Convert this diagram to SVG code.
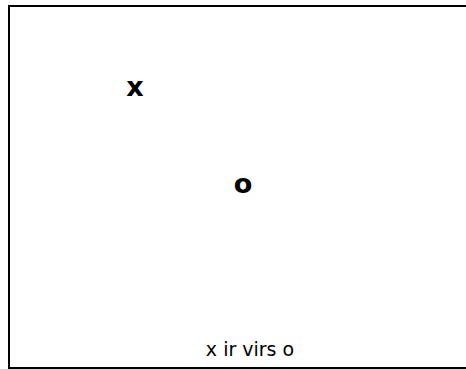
<svg xmlns="http://www.w3.org/2000/svg" width="466" height="369" viewBox="0 0 466 369">
<style>
.frame{fill:none;stroke:#000;stroke-width:2}
.mark{font-family:"DejaVu Sans",Verdana,sans-serif;font-weight:bold;font-size:27px;fill:#000}
.cap{font-family:"DejaVu Sans",Verdana,sans-serif;font-size:19px;fill:#000}
</style>
<rect x="0" y="0" width="466" height="369" fill="#fff"/>
<rect class="frame" x="9" y="6" width="460" height="362"/>
<g id="node-x"><text class="mark" x="135" y="96" text-anchor="middle">x</text></g>
<g id="node-o"><text class="mark" x="243" y="193" text-anchor="middle">o</text></g>
<g id="connectors"></g>
<text class="cap" x="250" y="356" text-anchor="middle">x ir virs o</text>
</svg>
